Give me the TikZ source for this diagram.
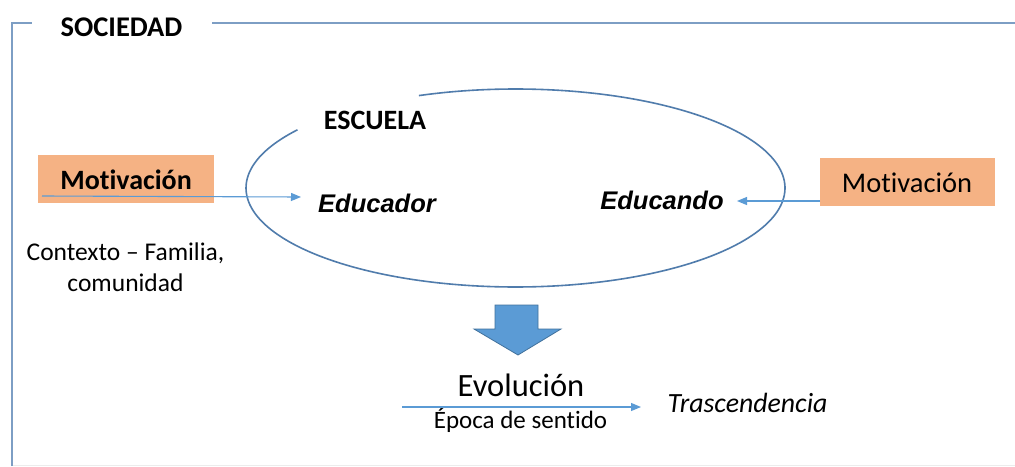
\documentclass[tikz,border=0pt]{standalone}
\usepackage{fontspec}
\setmainfont[Ligatures=NoCommon]{Carlito}
\newfontfamily\arialf{Liberation Sans}
\usetikzlibrary{arrows.meta}
\definecolor{framecol}{RGB}{125,158,196}
\definecolor{ellcol}{RGB}{80,124,172}
\definecolor{arrcol}{RGB}{91,155,213}
\definecolor{arrdark}{RGB}{65,113,156}
\definecolor{orangefill}{RGB}{245,178,132}
\tikzset{
  motbox/.style={fill=orangefill, minimum width=176pt, minimum height=48pt, inner sep=0pt},
  conn/.style={draw=arrcol, line width=1.1pt, -{Triangle[length=10pt,width=8pt]}},
  frameline/.style={draw=framecol, line width=2.6pt},
}
\begin{document}
\begin{tikzpicture}[x=1pt,y=-1pt]
\useasboundingbox (0,0) rectangle (1015,466);
\fill[white] (0,0) rectangle (1015,466);
% frame
\draw[gray!15, line width=1pt] (12,465) -- (1015,465);
\draw[frameline] (12,466) -- (12,23) -- (32,23);
\draw[frameline] (212,23) -- (1015,23);
\node[font=\fontsize{28.5}{28.5}\selectfont\bfseries] (soc) at (121.5,27) {SOCIEDAD};
% ellipse with gap
\draw[ellcol, line width=1.6pt] plot[domain=249:576, samples=200] ({515.5+269.5*cos(\x)},{188+99*sin(\x)});
\node[font=\fontsize{28}{28}\selectfont\bfseries] (esc) at (375,120) {ESCUELA};
% boxes
\node[motbox] (mot1) at (126,179) {};
\node[font=\fontsize{28}{28}\selectfont\bfseries] (mot1t) at (126,180) {Motivación};
\node[motbox, minimum width=175pt] (mot2) at (907.5,182) {};
\node[font=\fontsize{28.5}{28.5}\selectfont] (mot2t) at (907,183) {Motivación};
% inside ellipse
\node[font=\fontsize{25.5}{25.5}\selectfont\arialf\bfseries\itshape] (educador) at (377,203) {Educador};
\node[font=\fontsize{25.5}{25.5}\selectfont\arialf\bfseries\itshape] (educando) at (662,200) {Educando};
\node[font=\fontsize{25.5}{31}\selectfont, align=center] (ctx) at (125.5,267) {Contexto -- Familia,\\comunidad};
% connectors
\coordinate (l0) at (42,196);
\coordinate (l1) at (301,197);
\draw[conn] (l0) -- (l1);
\coordinate (r0) at (820,201);
\coordinate (r1) at (737,201);
\draw[conn] (r0) -- (r1);
% block arrow
\draw[fill=arrcol, draw=arrdark, line width=0.8pt] (495,305) -- (538,305) -- (538,329) -- (561,329) -- (518,355) -- (474,329) -- (495,329) -- cycle;
% bottom
\node[font=\fontsize{32.5}{32.5}\selectfont] (evol) at (521,385) {Evolución};
\node[font=\fontsize{25}{25}\selectfont] (epoca) at (520.5,420) {Época de sentido};
\node[font=\fontsize{27.8}{27.8}\selectfont\itshape] (trasc) at (747.5,403) {Trascendencia};
\coordinate (b0) at (402,407);
\coordinate (b1) at (641,407);
\draw[conn] (b0) -- (b1);
\end{tikzpicture}
\end{document}
